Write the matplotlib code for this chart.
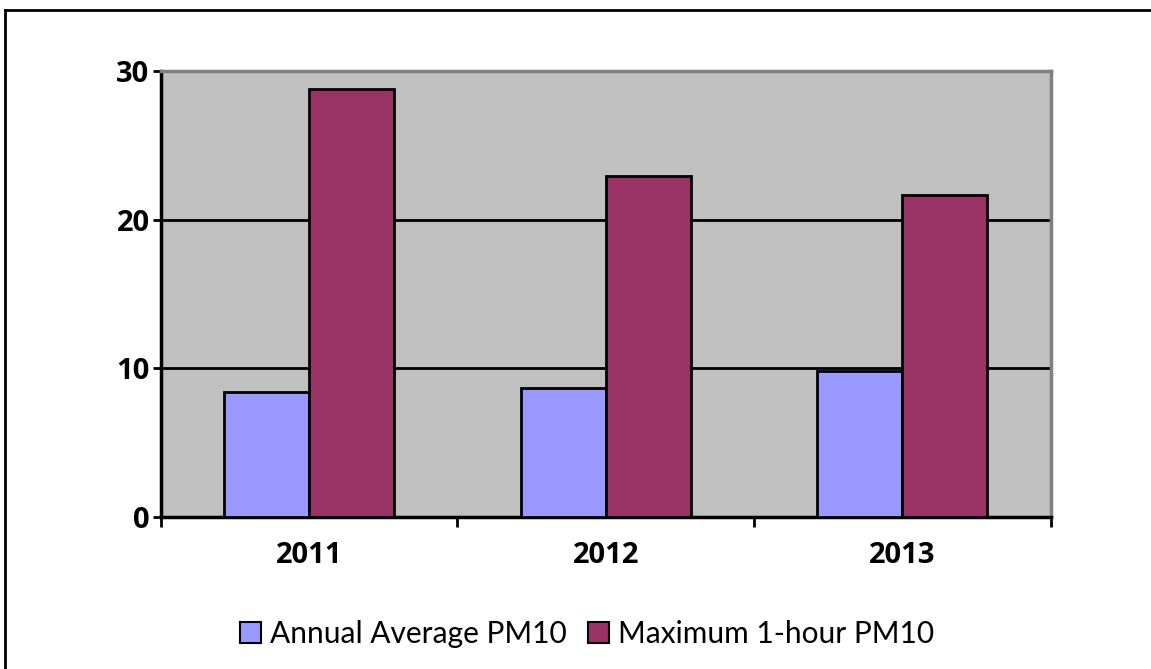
import numpy as np
import matplotlib.pyplot as plt
from matplotlib.lines import Line2D
from matplotlib.patches import Patch

# data
years = ['2011', '2012', '2013']
annual_avg = [8.43, 8.66, 9.82]
max_1hour = [28.77, 22.94, 21.66]
series_names = ['Annual Average PM10', 'Maximum 1-hour PM10']

plt.rcParams['font.family'] = ['Lato', 'DejaVu Sans']
bold_font = ['Open Sans', 'DejaVu Sans']

fig = plt.figure(figsize=(11.51, 6.69), dpi=100)
ax = fig.add_axes([160.7 / 1151, 1 - 517 / 669, (1050.7 - 160.7) / 1151, (517 - 71) / 669])

x = np.arange(len(years))
w = 0.2866
ax.bar(x - w / 2, annual_avg, w, color='#9999ff', edgecolor='black', linewidth=2, zorder=3)
ax.bar(x + w / 2, max_1hour, w, color='#993366', edgecolor='black', linewidth=2, zorder=3)

ax.set_facecolor('#c0c0c0')
ax.set_xlim(-0.5, len(years) - 0.5)
ax.set_ylim(0, 30)
ax.set_yticks([0, 10, 20, 30])
ax.set_yticklabels(['0', '10', '20', '30'], fontsize=21, fontweight='bold', family=bold_font)
for yv in [10, 20]:
    ax.axhline(yv, color='black', linewidth=2, zorder=2)

# category labels, ticks at boundaries
ax.set_xticks(x)
ax.set_xticklabels(years, fontsize=21, fontweight='bold', family=bold_font)
ax.tick_params(axis='x', length=0, pad=17)
ax.set_xticks(np.arange(len(years) + 1) - 0.5, minor=True)
ax.tick_params(axis='x', which='minor', length=7, width=2, direction='out')
ax.tick_params(axis='y', length=6, width=2, direction='out', pad=2)

for s in ['left', 'bottom']:
    ax.spines[s].set_linewidth(2.5)
    ax.spines[s].set_color('black')
for s in ['top', 'right']:
    ax.spines[s].set_linewidth(2.5)
    ax.spines[s].set_color('#808080')

handles = [Patch(facecolor='#9999ff', edgecolor='black', linewidth=1.5),
           Patch(facecolor='#993366', edgecolor='black', linewidth=1.5)]
fig.legend(handles, series_names, loc='center', bbox_to_anchor=(0.51, 1 - 634 / 669),
           ncol=2, frameon=False, fontsize=21.5, handlelength=0.7, handleheight=0.7,
           handletextpad=0.3, columnspacing=0.7)

# outer frame (only left and top visible)
fig.add_artist(Line2D([5 / 1151, 5 / 1151], [0, 1 - 10 / 669], color='black', linewidth=2,
                      transform=fig.transFigure))
fig.add_artist(Line2D([5 / 1151, 1], [1 - 10 / 669, 1 - 10 / 669], color='black', linewidth=2,
                      transform=fig.transFigure))

fig.savefig('out.png', dpi=100)
